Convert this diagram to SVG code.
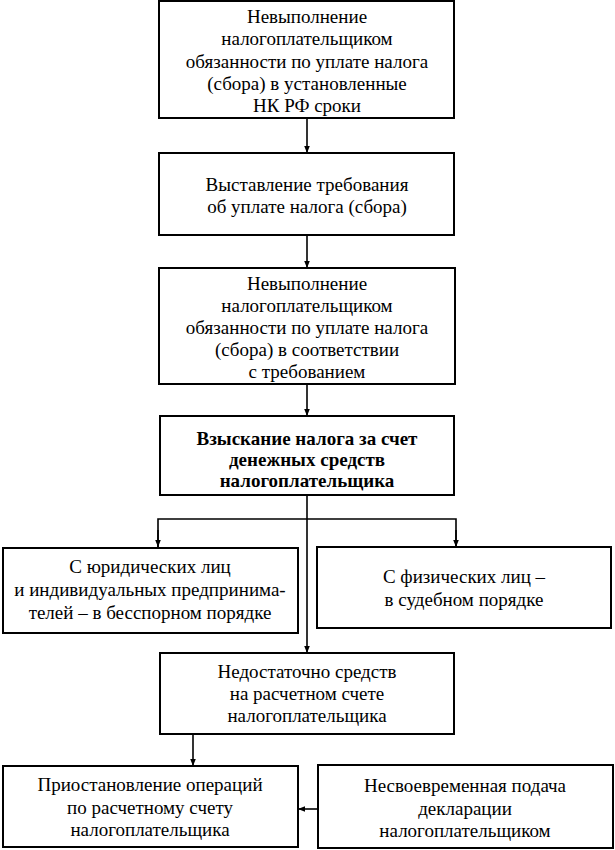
<svg xmlns="http://www.w3.org/2000/svg" width="615" height="850" viewBox="0 0 615 850">
<defs>
<marker id="ah" viewBox="0 0 10 10" refX="10" refY="5" markerWidth="7" markerHeight="7" markerUnits="userSpaceOnUse" orient="auto">
<path d="M0,1 L10,5 L0,9 Z" fill="#000"/>
</marker>
<style>
text{font-family:'Liberation Serif','Times New Roman',serif !important;font-size:19px;text-anchor:middle;fill:#000}
.b{font-weight:bold}
.box{fill:#fff;stroke:#000;stroke-width:2}
</style>
</defs>
<rect width="615" height="850" fill="#fff"/>
<g id="connectors" fill="none" stroke="#000" stroke-width="1.6">
<path d="M307,118 V153" marker-end="url(#ah)"/>
<path d="M307,235 V268" marker-end="url(#ah)"/>
<path d="M307,384 V416" marker-end="url(#ah)"/>
<path d="M307,495 V653" marker-end="url(#ah)"/>
<path d="M158,547 V519 H456 V547"/>
<path d="M158,530 V547" marker-end="url(#ah)"/>
<path d="M456,530 V547" marker-end="url(#ah)"/>
<path d="M193,734 V766" marker-end="url(#ah)"/>
<path d="M318,809 H298" marker-end="url(#ah)"/>
</g>
<g id="n1">
<rect class="box" x="159" y="1" width="295" height="117"/>
<text x="307" y="23" font-family="serif">Невыполнение</text>
<text x="307" y="45" font-family="serif">налогоплательщиком</text>
<text x="307" y="68" font-family="serif">обязанности по уплате налога</text>
<text x="307" y="90" font-family="serif">(сбора) в установленные</text>
<text x="307" y="112" font-family="serif">НК РФ сроки</text>
</g>
<g id="n2">
<rect class="box" x="159" y="153" width="295" height="82"/>
<text x="307" y="191" font-family="serif">Выставление требования</text>
<text x="307" y="213" font-family="serif">об уплате налога (сбора)</text>
</g>
<g id="n3">
<rect class="box" x="159" y="268" width="296" height="116"/>
<text x="307" y="290" font-family="serif">Невыполнение</text>
<text x="307" y="312" font-family="serif">налогоплательщиком</text>
<text x="307" y="334" font-family="serif">обязанности по уплате налога</text>
<text x="307" y="356" font-family="serif">(сбора) в соответствии</text>
<text x="307" y="378" font-family="serif">с требованием</text>
</g>
<g id="n4">
<rect class="box" x="160" y="416" width="294" height="79"/>
<text class="b" x="307" y="445" font-family="serif">Взыскание налога за счет</text>
<text class="b" x="307" y="466" font-family="serif">денежных средств</text>
<text class="b" x="307" y="487" font-family="serif">налогоплательщика</text>
</g>
<g id="n5">
<rect class="box" x="3" y="548" width="295" height="85"/>
<text x="150" y="573" font-family="serif">С юридических лиц</text>
<text x="150" y="596" font-family="serif">и индивидуальных предпринима-</text>
<text x="150" y="619" font-family="serif">телей – в бесспорном порядке</text>
</g>
<g id="n6">
<rect class="box" x="317" y="547" width="294" height="81"/>
<text x="464" y="583" font-family="serif">С физических лиц –</text>
<text x="464" y="606" font-family="serif">в судебном порядке</text>
</g>
<g id="n7">
<rect class="box" x="160" y="653" width="294" height="81"/>
<text x="307" y="678" font-family="serif">Недостаточно средств</text>
<text x="307" y="700" font-family="serif">на расчетном счете</text>
<text x="307" y="722" font-family="serif">налогоплательщика</text>
</g>
<g id="n8">
<rect class="box" x="3" y="766" width="295" height="81"/>
<text x="150" y="791" font-family="serif">Приостановление операций</text>
<text x="150" y="814" font-family="serif">по расчетному счету</text>
<text x="150" y="836" font-family="serif">налогоплательщика</text>
</g>
<g id="n9">
<rect class="box" x="318" y="765" width="295" height="83"/>
<text x="465" y="792" font-family="serif">Несвоевременная подача</text>
<text x="465" y="815" font-family="serif">декларации</text>
<text x="465" y="837" font-family="serif">налогоплательщиком</text>
</g>
</svg>
